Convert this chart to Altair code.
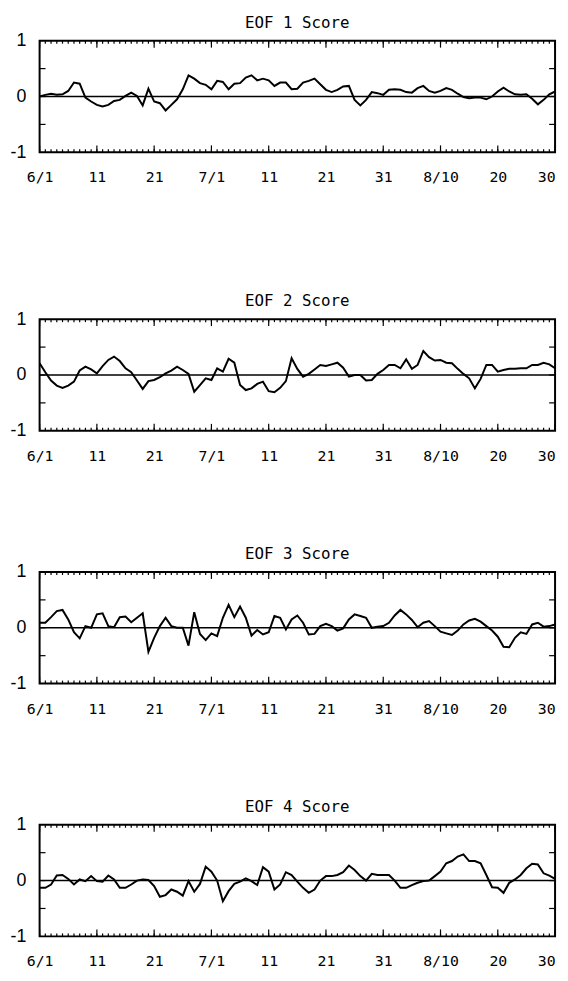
import altair as alt
import pandas as pd

days = list(range(91))
tick_days = [0, 10, 20, 30, 40, 50, 60, 70, 80, 90]
tick_labels = ["6/1", "11", "21", "7/1", "11", "21", "31", "8/10", "20", "30"]
y_label_values = [-1, 0, 1]
y_tick_values = [-0.5, 0, 0.5]

eof1 = [0.0, 0.03, 0.05, 0.03, 0.04, 0.1, 0.25, 0.23, -0.02, -0.09,
        -0.15, -0.18, -0.15, -0.08, -0.06, 0.01, 0.07, 0.01, -0.16, 0.14,
        -0.09, -0.12, -0.25, -0.15, -0.05, 0.13, 0.38, 0.32, 0.24, 0.21,
        0.13, 0.28, 0.26, 0.13, 0.23, 0.24, 0.34, 0.38, 0.29, 0.32,
        0.29, 0.19, 0.25, 0.25, 0.13, 0.14, 0.25, 0.28, 0.32, 0.22,
        0.12, 0.08, 0.12, 0.18, 0.19, -0.06, -0.16, -0.06, 0.08, 0.06,
        0.03, 0.12, 0.13, 0.12, 0.08, 0.07, 0.15, 0.19, 0.10, 0.07,
        0.10, 0.15, 0.12, 0.05, -0.01, -0.03, -0.02, -0.02, -0.05, 0.0,
        0.09, 0.16, 0.09, 0.04, 0.03, 0.04, -0.04, -0.14, -0.06, 0.04,
        0.09]

eof2 = [0.21, 0.05, -0.1, -0.19, -0.23, -0.19, -0.12, 0.08, 0.15, 0.1,
        0.03, 0.16, 0.27, 0.33, 0.25, 0.12, 0.05, -0.1, -0.25, -0.11,
        -0.09, -0.04, 0.03, 0.08, 0.15, 0.09, 0.02, -0.3, -0.18, -0.06,
        -0.09, 0.12, 0.06, 0.29, 0.22, -0.18, -0.27, -0.24, -0.16, -0.12,
        -0.29, -0.31, -0.23, -0.11, 0.3, 0.11, -0.03, 0.02, 0.1, 0.18,
        0.16, 0.19, 0.22, 0.13, -0.03, 0.0, 0.0, -0.1, -0.09, 0.02,
        0.09, 0.18, 0.18, 0.12, 0.28, 0.11, 0.18, 0.43, 0.32, 0.26,
        0.27, 0.22, 0.21, 0.11, 0.02, -0.06, -0.24, -0.07, 0.18, 0.18,
        0.06, 0.09, 0.11, 0.11, 0.12, 0.12, 0.18, 0.18, 0.22, 0.19,
        0.12]

eof3 = [0.09, 0.09, 0.19, 0.3, 0.32, 0.15, -0.08, -0.19, 0.03, 0.0,
        0.24, 0.26, 0.03, 0.01, 0.19, 0.2, 0.1, 0.18, 0.26, -0.43,
        -0.18, 0.03, 0.18, 0.03, 0.0, 0.0, -0.32, 0.28, -0.11, -0.22,
        -0.1, -0.15, 0.18, 0.41, 0.19, 0.38, 0.18, -0.14, -0.04, -0.12,
        -0.08, 0.21, 0.18, -0.03, 0.15, 0.22, 0.09, -0.12, -0.11, 0.03,
        0.07, 0.03, -0.05, -0.01, 0.15, 0.24, 0.21, 0.18, 0.0, 0.02,
        0.03, 0.09, 0.22, 0.32, 0.24, 0.14, 0.01, 0.09, 0.12, 0.03,
        -0.07, -0.1, -0.13, -0.05, 0.06, 0.13, 0.16, 0.11, 0.03, -0.05,
        -0.16, -0.34, -0.35, -0.18, -0.08, -0.11, 0.06, 0.09, 0.02, 0.03,
        0.06]

eof4 = [-0.13, -0.13, -0.07, 0.09, 0.1, 0.03, -0.07, 0.02, -0.01, 0.08,
        -0.01, -0.02, 0.09, 0.02, -0.13, -0.13, -0.07, 0.0, 0.02, 0.01,
        -0.1, -0.29, -0.26, -0.16, -0.2, -0.27, -0.01, -0.2, -0.06, 0.25,
        0.16, 0.0, -0.37, -0.19, -0.06, -0.02, 0.04, -0.01, -0.08, 0.24,
        0.16, -0.16, -0.07, 0.15, 0.1, -0.02, -0.13, -0.22, -0.16, 0.0,
        0.08, 0.08, 0.1, 0.15, 0.27, 0.19, 0.08, 0.0, 0.12, 0.1,
        0.1, 0.1, 0.0, -0.13, -0.13, -0.08, -0.04, -0.01, 0.0, 0.08,
        0.16, 0.31, 0.35, 0.43, 0.47, 0.35, 0.35, 0.31, 0.1, -0.12,
        -0.13, -0.22, -0.04, 0.02, 0.1, 0.22, 0.3, 0.29, 0.13, 0.09,
        0.03]

W, H = 522, 113
MONO = "DejaVu Sans Mono"

label_map = "{" + ",".join(f"'{d}':'{l}'" for d, l in zip(tick_days, tick_labels)) + "}"
y_label_expr = "datum.value < -0.5 ? '-1' : (datum.value > 0.5 ? '1' : '0')"


def panel(n, values):
    df = pd.DataFrame({"day": days, "score": values})
    xs = alt.Scale(domain=[0, 90], nice=False, zero=False)
    ys = alt.Scale(domain=[-1, 1], nice=False, zero=False)
    x = alt.X("day:Q", scale=xs,
              axis=alt.Axis(values=tick_days, labelExpr=label_map + "[datum.value]",
                            ticks=False, domain=False, grid=False, title=None,
                            labelPadding=18, labelFont=MONO, labelFontSize=15,
                            labelColor="black", labelFlush=False,
                            labelAlign={"condition": {"test": "datum.value == 90", "value": "right"},
                                        "value": "center"}))
    y = alt.Y("score:Q", scale=ys,
              axis=alt.Axis(values=y_label_values, labelExpr=y_label_expr, ticks=False,
                            domain=False, grid=False, title=None, labelPadding=14,
                            labelFont="Liberation Sans", labelFontSize=18,
                            labelColor="black"))
    line = alt.Chart(df).mark_line(color="black", strokeWidth=2).encode(x=x, y=y)
    zero = alt.Chart(pd.DataFrame({"score": [0]})).mark_rule(
        color="black", strokeWidth=1.6).encode(y=alt.Y("score:Q", scale=ys))
    minor = pd.DataFrame({"day": days})
    major = pd.DataFrame({"day": tick_days})
    yt = pd.DataFrame({"score": y_tick_values})
    layers = [zero, line]
    for src, ln in [(minor, 3), (major, 7)]:
        layers.append(alt.Chart(src).mark_rule(color="black", strokeWidth=1.2).encode(
            x=alt.X("day:Q", scale=xs), y=alt.value(0), y2=alt.value(ln)))
        layers.append(alt.Chart(src).mark_rule(color="black", strokeWidth=1.2).encode(
            x=alt.X("day:Q", scale=xs), y=alt.value(H), y2=alt.value(H - ln)))
    layers.append(alt.Chart(yt).mark_rule(color="black", strokeWidth=1.2).encode(
        y=alt.Y("score:Q", scale=ys), x=alt.value(0), x2=alt.value(6)))
    layers.append(alt.Chart(yt).mark_rule(color="black", strokeWidth=1.2).encode(
        y=alt.Y("score:Q", scale=ys), x=alt.value(W - 6), x2=alt.value(W)))
    return alt.layer(*layers).properties(
        width=W, height=H,
        title=alt.TitleParams(f"EOF {n} Score", font=MONO, fontSize=16,
                              fontWeight="normal", offset=1, anchor="middle",
                              color="black"))


p1 = panel(1, eof1)
p2 = panel(2, eof2)
p3 = panel(3, eof3)
p4 = panel(4, eof4)

inner = alt.vconcat(p2, p3, p4, spacing=82)
chart = alt.vconcat(p1, inner, spacing=108).properties(
    padding=0,
    background="white",
).configure_view(stroke="black", strokeWidth=2)

chart.save("out.html", embed_options={"renderer": "svg", "actions": False})
